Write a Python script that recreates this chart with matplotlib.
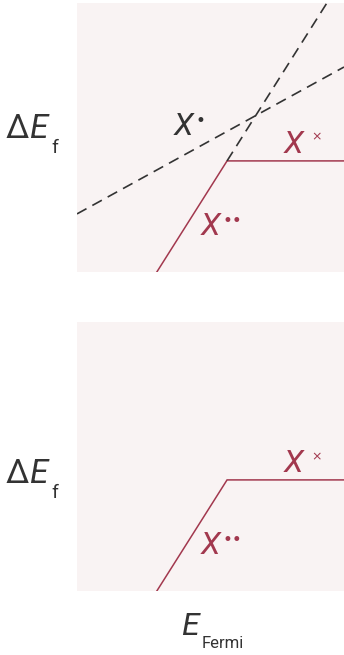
import matplotlib.pyplot as plt
import numpy as np

plt.rcParams['font.family'] = ['Roboto', 'DejaVu Sans']

# Fermi level axis (arbitrary units) and the formation-energy lines
fermi_range = [0.0, 1.0]
neutral_energy = 0.413          # X^x, flat in E_Fermi
kink_fermi = 0.562              # transition level X^x / X^..
slope_double = 1.57             # X^.. line slope
single_start = 0.216            # X^. line at E_Fermi = 0
slope_single = 0.546            # X^. line slope

red = '#a2384e'
dark = '#333333'
panel_bg = '#f9f3f3'

W, H = 344, 655
fig = plt.figure(figsize=(W / 100, H / 100), dpi=100)
ax_top = fig.add_axes([77 / W, 1 - 272 / H, 267 / W, 269 / H])
ax_bot = fig.add_axes([77 / W, 1 - 591 / H, 267 / W, 269 / H])


def px(x, y):
    # pixel position (from top-left) -> figure fraction
    return x / W, 1 - y / H


def draw_stable(ax):
    # X^.. up to the transition level, then X^x to the right
    x_low = kink_fermi - neutral_energy / slope_double
    ax.plot([x_low, kink_fermi, 1.0], [0.0, neutral_energy, neutral_energy],
            color=red, lw=1.1, solid_joinstyle='miter')


def label(x, y, sup, sup_x, sup_y, color, sup_size):
    fig.text(*px(x, y), 'X', style='italic', fontsize=23, color=color,
             ha='left', va='baseline')
    fig.text(*px(sup_x, sup_y), sup, fontsize=sup_size, color=color,
             ha='center', va='center_baseline', family=['DejaVu Sans'])


for ax in (ax_top, ax_bot):
    ax.set_facecolor(panel_bg)
    ax.set_xlim(0, 1)
    ax.set_ylim(0, 1)
    ax.set_xticks([])
    ax.set_yticks([])
    for s in ax.spines.values():
        s.set_visible(False)
    draw_stable(ax)

# metastable branches in the upper panel
x = np.array(fermi_range)
x_up = np.array([kink_fermi, 1.0])
ax_top.plot(x_up, neutral_energy + slope_double * (x_up - kink_fermi),
            color=dark, lw=1.2, ls=(0, (6.5, 4)))
ax_top.plot(x, single_start + slope_single * x, color=dark, lw=1.2,
            ls=(0, (6.5, 4)))

# defect labels
label(174, 135, '•', 200, 119, dark, 12)
label(284, 153, '×', 316.5, 135, red, 9)
label(201, 235, '••', 232, 219, red, 12)
label(284, 472, '×', 316.5, 455, red, 9)
label(201, 554, '••', 232, 538, red, 12)

# axis labels
for base in (138, 483):
    fig.text(*px(6, base), 'Δ', fontsize=24, color=dark, va='baseline')
    fig.text(*px(29, base), 'E', style='italic', fontsize=24, color=dark,
             va='baseline')
    fig.text(*px(51, base + 15), 'f', fontsize=14, color=dark, va='baseline')

fig.text(*px(181, 635), 'E', style='italic', fontsize=23, color=dark,
         va='baseline')
fig.text(*px(202, 648), 'Fermi', fontsize=12, color=dark, va='baseline')

fig.savefig('out.png', dpi=100, facecolor='white')
